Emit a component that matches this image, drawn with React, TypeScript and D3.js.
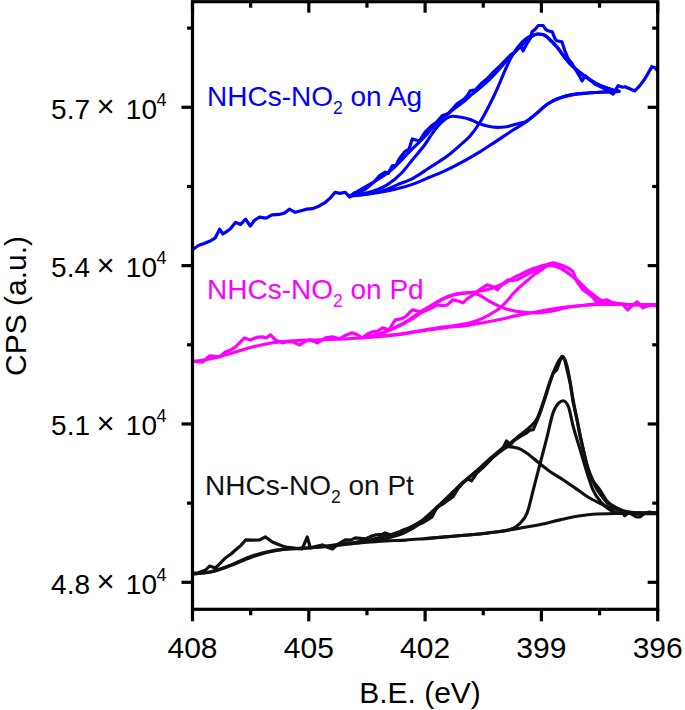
import React from "react";
import * as d3 from "d3";

type P = [number, number];

// ---------- axis ticks ----------
const xMajorTicks = [408, 405, 402, 399, 396];
const xMinorTicks = [406.5, 403.5, 400.5, 397.5];
const yMajorTicks = [48000, 51000, 54000, 57000];
const yMinorTicks = [49500, 52500, 55500, 58500];
const yTickMantissa = ["4.8", "5.1", "5.4", "5.7"];

// ---------- series labels / colours ----------
const seriesNames = ["Ag", "Pd", "Pt"];
const seriesColors = ["#0000ff", "#ff00ff", "#111111"];

// ---------- Ag ----------
const agRaw: P[] = [[408.0,54300],[407.85,54380],[407.7,54420],[407.56,54460],[407.42,54520],[407.3,54690],[407.22,54600],[407.15,54630],[407.02,54700],[406.89,54820],[406.76,54780],[406.63,54880],[406.51,54750],[406.4,54860],[406.27,54920],[406.1,54900],[405.95,54960],[405.76,54970],[405.62,55000],[405.5,55070],[405.35,55010],[405.2,55040],[405.05,55070],[404.9,55080],[404.73,55130],[404.57,55200],[404.45,55280],[404.32,55390],[404.2,55370],[404.06,55390],[403.95,55300],[403.82,55380],[403.7,55390],[403.56,55440],[403.44,55510],[403.3,55600],[403.18,55700],[403.03,55770],[402.95,55750],[402.85,55890],[402.75,55900],[402.67,56020],[402.51,56170],[402.42,56200],[402.33,56400],[402.15,56360],[402.0,56530],[401.85,56640],[401.7,56720],[401.56,56840],[401.4,56880],[401.17,57070],[401.0,57150],[400.91,57220],[400.84,57310],[400.7,57330],[400.55,57450],[400.4,57540],[400.22,57680],[400.06,57790],[399.94,57880],[399.81,57980],[399.68,58060],[399.55,58170],[399.47,58070],[399.38,58200],[399.29,58300],[399.24,58430],[399.16,58480],[399.08,58550],[398.96,58550],[398.88,58470],[398.83,58450],[398.72,58430],[398.65,58300],[398.6,58260],[398.47,58240],[398.4,58080],[398.31,57920],[398.22,57840],[398.13,57730],[398.04,57620],[397.95,57500],[397.87,57600],[397.75,57520],[397.62,57440],[397.5,57400],[397.36,57350],[397.25,57300],[397.15,57250],[397.02,57410],[396.9,57380],[396.84,57390],[396.72,57350],[396.59,57310],[396.45,57420],[396.33,57540],[396.22,57680],[396.15,57770],[396.07,57750],[396.0,57690]];
const agEnv: P[] = [[403.95,55320],[403.6,55470],[403.2,55640],[402.8,55860],[402.4,56160],[402.0,56450],[401.8,56620],[401.6,56770],[401.43,56870],[401.2,57000],[401.0,57110],[400.8,57240],[400.58,57370],[400.35,57520],[400.14,57680],[399.9,57880],[399.73,58010],[399.5,58180],[399.29,58320],[399.1,58390],[398.95,58380],[398.8,58300],[398.6,58150],[398.39,57940],[398.15,57750],[397.87,57590],[397.6,57460],[397.36,57380],[397.15,57330],[397.0,57310]];
const agC1: P[] = [[403.95,55320],[403.5,55380],[403.0,55520],[402.6,55760],[402.3,56030],[402.0,56300],[401.8,56520],[401.6,56700],[401.43,56800],[401.28,56830],[401.1,56815],[400.84,56770],[400.6,56690],[400.4,56645],[400.14,56620],[399.9,56630],[399.75,56660],[399.6,56690],[399.42,56725],[399.1,56900],[398.9,57030],[398.7,57120],[398.47,57190],[398.2,57240],[397.8,57270],[397.4,57290],[397.0,57300]];
const agC2: P[] = [[403.95,55320],[403.5,55360],[403.0,55440],[402.72,55530],[402.3,55660],[401.9,55850],[401.43,56076],[401.1,56280],[400.84,56456],[400.58,56722],[400.35,57030],[400.14,57349],[399.95,57680],[399.8,57918],[399.6,58150],[399.4,58300],[399.2,58370],[399.08,58390],[398.95,58375],[398.8,58290],[398.6,58140],[398.39,57930],[398.15,57740],[397.87,57580],[397.6,57455],[397.36,57375],[397.15,57325],[397.0,57305]];
const agBg: P[] = [[403.95,55320],[403.6,55345],[403.16,55390],[402.7,55460],[402.31,55545],[401.9,55670],[401.45,55810],[401.0,55980],[400.6,56150],[400.2,56340],[399.75,56560],[399.4,56720],[399.1,56900],[398.9,57030],[398.7,57120],[398.47,57190],[398.2,57240],[397.8,57270],[397.4,57290],[397.0,57300]];

// ---------- Pd ----------
const pdRaw: P[] = [[408,52194],[407.87,52180],[407.74,52175],[407.65,52230],[407.56,52289],[407.43,52280],[407.3,52270],[407.15,52365],[407.02,52400],[406.89,52460],[406.78,52540],[406.66,52630],[406.51,52593],[406.35,52640],[406.2,52650],[406.1,52630],[405.99,52688],[405.86,52593],[405.75,52560],[405.68,52536],[405.55,52560],[405.42,52555],[405.24,52498],[405.1,52560],[404.99,52593],[404.88,52570],[404.78,52536],[404.68,52580],[404.57,52631],[404.39,52650],[404.21,52612],[404.05,52680],[403.88,52726],[403.75,52690],[403.62,52631],[403.5,52700],[403.36,52745],[403.22,52760],[403.1,52821],[402.92,52783],[402.85,52880],[402.77,52972],[402.62,52990],[402.51,53029],[402.33,53162],[402.2,53140],[402.07,53124],[401.95,53160],[401.82,53200],[401.69,53257],[401.55,53240],[401.43,53257],[401.28,53352],[401.15,53330],[401.02,53295],[400.9,53380],[400.76,53447],[400.6,53540],[400.4,53637],[400.25,53600],[400.14,53542],[400.0,53650],[399.86,53732],[399.75,53720],[399.63,53732],[399.45,53800],[399.29,53865],[399.12,53920],[398.96,53979],[398.83,54030],[398.7,54055],[398.57,54030],[398.44,53998],[398.3,53950],[398.18,53884],[398.08,53694],[397.93,53542],[397.8,53480],[397.69,53409],[397.56,53295],[397.45,53330],[397.31,53352],[397.15,53295],[397.0,53280],[396.89,53257],[396.77,53162],[396.65,53250],[396.53,53314],[396.38,53200],[396.25,53240],[396.12,53257],[396.0,53219]];
const pdEnv: P[] = [[403.6,52640],[403.2,52700],[402.8,52820],[402.4,52980],[402.12,53124],[401.9,53220],[401.69,53314],[401.5,53390],[401.28,53447],[401.0,53480],[400.84,53490],[400.6,53515],[400.4,53545],[400.14,53610],[399.88,53694],[399.7,53780],[399.55,53830],[399.3,53920],[399.11,53965],[398.95,54005],[398.83,54017],[398.7,54000],[398.52,53960],[398.35,53880],[398.18,53789],[398.0,53670],[397.82,53542],[397.65,53440],[397.49,53352],[397.3,53310],[397.15,53290],[396.8,53262],[396.4,53258],[396.0,53257]];
const pdC1: P[] = [[403.6,52640],[403.2,52700],[402.8,52810],[402.4,52960],[402.12,53100],[401.9,53210],[401.69,53300],[401.5,53380],[401.28,53440],[401.05,53475],[400.84,53485],[400.6,53440],[400.4,53352],[400.2,53270],[399.99,53200],[399.75,53150],[399.55,53124],[399.3,53108],[399.11,53105],[398.9,53120],[398.7,53143],[398.5,53180],[398.26,53219],[398.0,53240],[397.5,53270],[397.0,53268],[396.5,53260],[396.0,53257]];
const pdC2: P[] = [[403.6,52640],[402.5,52720],[402.1,52770],[401.5,52840],[401.2,52870],[400.84,52916],[400.6,52975],[400.4,53048],[400.2,53130],[400.06,53200],[399.9,53320],[399.73,53466],[399.55,53600],[399.37,53713],[399.2,53820],[399.03,53903],[398.83,53998],[398.7,54000],[398.52,53960],[398.35,53880],[398.18,53789],[398.0,53670],[397.82,53542],[397.65,53440],[397.49,53352],[397.3,53305],[397.15,53285],[396.8,53262],[396.4,53258],[396.0,53257]];
const pdBg: P[] = [[408,52180],[407.5,52240],[407.0,52340],[406.5,52450],[406.0,52530],[405.5,52570],[405.0,52590],[404.5,52600],[404.0,52615],[403.3,52650],[402.6,52700],[402.1,52764],[401.5,52820],[400.84,52878],[400.2,52960],[399.55,53067],[399.0,53140],[398.52,53200],[398.0,53240],[397.41,53270],[396.8,53265],[396.0,53257]];

// ---------- Pt ----------
const ptRaw: P[] = [[408,48176],[407.85,48180],[407.66,48233],[407.56,48309],[407.41,48271],[407.3,48350],[407.15,48461],[407.0,48540],[406.89,48613],[406.75,48700],[406.63,48803],[406.45,48800],[406.27,48803],[406.12,48860],[405.94,48765],[405.8,48720],[405.68,48689],[405.55,48660],[405.42,48651],[405.3,48640],[405.17,48632],[405.04,48860],[404.96,48651],[404.8,48680],[404.65,48708],[404.5,48660],[404.39,48632],[404.25,48720],[404.06,48803],[403.92,48800],[403.8,48841],[403.54,48822],[403.4,48870],[403.28,48898],[403.1,48910],[403.03,48936],[402.9,48900],[402.77,48898],[402.6,48980],[402.41,49031],[402.25,49080],[402.07,49126],[401.95,49180],[401.82,49240],[401.69,49430],[401.55,49480],[401.4,49560],[401.28,49620],[401.15,49780],[401.02,49886],[400.9,49960],[400.8,49920],[400.66,50076],[400.5,50180],[400.35,50290],[400.24,50380],[400.1,50470],[399.98,50560],[399.9,50680],[399.8,50600],[399.7,50690],[399.55,50760],[399.4,50820],[399.3,50880],[399.21,50892],[399.12,51050],[399.03,51215],[398.9,51500],[398.78,51786],[398.7,51960],[398.6,52032],[398.52,52200],[398.47,52278],[398.4,52220],[398.34,52032],[398.25,51750],[398.18,51405],[398.08,51080],[398.0,50760],[397.9,50450],[397.82,50190],[397.7,49950],[397.56,49753],[397.45,49640],[397.31,49506],[397.15,49440],[397.05,49390],[396.97,49373],[396.85,49260],[396.75,49320],[396.64,49278],[396.55,49240],[396.46,49240],[396.35,49300],[396.22,49330],[396.12,49316],[396.0,49297]];
const ptEnv: P[] = [[408,48160],[407.5,48205],[407.0,48330],[406.5,48490],[406.0,48590],[405.5,48635],[405.0,48655],[404.5,48690],[404.0,48740],[403.5,48790],[403.0,48880],[402.5,49000],[402.12,49150],[401.7,49420],[401.3,49700],[401.0,49910],[400.66,50120],[400.3,50360],[400.0,50540],[399.8,50640],[399.55,50790],[399.3,50940],[399.1,51120],[398.95,51420],[398.8,51760],[398.65,52050],[398.52,52230],[398.45,52280],[398.34,52100],[398.18,51450],[398.0,50790],[397.82,50220],[397.67,49930],[397.5,49760],[397.31,49540],[397.0,49390],[396.64,49300],[396.0,49300]];
const ptC1: P[] = [[403.5,48770],[403.0,48830],[402.5,48950],[402.12,49120],[401.7,49400],[401.3,49690],[401.0,49900],[400.66,50110],[400.3,50340],[400.0,50510],[399.85,50570],[399.6,50540],[399.4,50460],[399.11,50290],[398.8,50110],[398.44,49943],[398.1,49770],[397.82,49626],[397.5,49500],[397.31,49436],[397.0,49370],[396.8,49340],[396.5,49315],[396.0,49310]];
const ptC2: P[] = [[402.0,48830],[401.0,48890],[400.4,48935],[399.81,49000],[399.55,49120],[399.37,49310],[399.21,49750],[399.03,50260],[398.85,50765],[398.7,51210],[398.55,51400],[398.44,51440],[398.31,51340],[398.18,50955],[398.0,50510],[397.82,50070],[397.67,49753],[397.44,49500],[397.23,49373],[396.97,49310],[396.5,49310],[396.0,49310]];
const ptBg: P[] = [[408,48158],[407.5,48200],[407.0,48320],[406.5,48470],[406.0,48580],[405.5,48630],[405.0,48650],[404.5,48680],[404.0,48720],[403.5,48760],[403.0,48785],[402.5,48800],[402.12,48820],[401.5,48860],[400.9,48895],[400.4,48930],[399.95,48975],[399.55,49025],[399.0,49100],[398.52,49183],[398.0,49260],[397.67,49290],[397.0,49305],[396.5,49310],[396.0,49310]];

const rawSeries = [agRaw, pdRaw, ptRaw];
const fitSeries = [
  [agBg, agC1, agC2, agEnv],
  [pdBg, pdC1, pdC2, pdEnv],
  [ptBg, ptC1, ptC2, ptEnv],
];

const FONT = "'Liberation Sans', Arial, Helvetica, sans-serif";

export default function App() {
  const W = 685, H = 710;
  const L = 192.5, R = 657.7, T = 1.7, B = 609.3;
  const x = d3.scaleLinear().domain([408, 396]).range([L, R]);
  const y = d3.scaleLinear().domain([48000, 57000]).range([582.3, 107.3]);

  const rawLine = d3.line<P>().x(d => x(d[0])).y(d => y(d[1])).curve(d3.curveLinear);
  const fitLine = d3.line<P>().x(d => x(d[0])).y(d => y(d[1])).curve(d3.curveMonotoneX);

  const labelY = [106, 299, 495];
  const labelX = [207, 207, 205];

  return (
    <svg width={W} height={H} style={{ position: "absolute", left: 0, top: 0, background: "#fff" }} fontFamily={FONT}>
      <defs>
        <clipPath id="plotclip">
          <rect x={L} y={T} width={R - L} height={B - T} />
        </clipPath>
      </defs>
      <g clipPath="url(#plotclip)" fill="none" strokeLinejoin="round" strokeLinecap="round">
        {rawSeries.map((s, i) => (
          <path key={"r" + i} d={rawLine(s) || ""} stroke={seriesColors[i]} strokeWidth={3.2} />
        ))}
        {fitSeries.map((fs, i) =>
          fs.map((s, j) => (
            <path key={"f" + i + "-" + j} d={fitLine(s) || ""} stroke={seriesColors[i]} strokeWidth={3.1} />
          ))
        )}
      </g>

      {/* series labels */}
      {seriesNames.map((n, i) => (
        <text key={"lab" + i} x={labelX[i]} y={labelY[i]} fontSize={28} fill={seriesColors[i]}>
          NHCs-NO<tspan fontSize={17.5} dy={8}>2</tspan>
          <tspan dy={-8}> on {n}</tspan>
        </text>
      ))}

      {/* frame */}
      <rect x={L} y={T} width={R - L} height={B - T} fill="none" stroke="#000" strokeWidth={3.2} />

      {/* y ticks */}
      {yMajorTicks.map(v => (
        <g key={"ym" + v}>
          <line x1={L - 11} x2={L} y1={y(v)} y2={y(v)} stroke="#000" strokeWidth={3.2} />
          <line x1={R - 10} x2={R} y1={y(v)} y2={y(v)} stroke="#000" strokeWidth={3.2} />
        </g>
      ))}
      {yMinorTicks.map(v => (
        <g key={"yn" + v}>
          <line x1={L - 5.5} x2={L} y1={y(v)} y2={y(v)} stroke="#000" strokeWidth={3.2} />
          <line x1={R - 5.5} x2={R} y1={y(v)} y2={y(v)} stroke="#000" strokeWidth={3.2} />
        </g>
      ))}
      {yMajorTicks.map((v, i) => (
        <g key={"yl" + v} fontSize={28} fill="#000">
          <text x={90} y={y(v) + 11.5} textAnchor="end">{yTickMantissa[i]}</text>
          <text x={105.5} y={y(v) + 10} textAnchor="middle" fontSize={31}>×</text>
          <text x={157} y={y(v) + 11.5} textAnchor="end">10</text>
          <text x={156.5} y={y(v) - 1.5} fontSize={18}>4</text>
        </g>
      ))}

      {/* x ticks */}
      {xMajorTicks.map(v => (
        <g key={"xm" + v}>
          <line x1={x(v)} x2={x(v)} y1={B} y2={B + 12} stroke="#000" strokeWidth={3.2} />
          <line x1={x(v)} x2={x(v)} y1={T} y2={T + 11} stroke="#000" strokeWidth={3.2} />
          <text x={x(v)} y={658} textAnchor="middle" fontSize={30} fill="#000">{v}</text>
        </g>
      ))}
      {xMinorTicks.map(v => (
        <g key={"xn" + v}>
          <line x1={x(v)} x2={x(v)} y1={B} y2={B + 6} stroke="#000" strokeWidth={3.2} />
          <line x1={x(v)} x2={x(v)} y1={T} y2={T + 6} stroke="#000" strokeWidth={3.2} />
        </g>
      ))}

      {/* axis titles */}
      <text x={420} y={703} textAnchor="middle" fontSize={30} fill="#000">B.E. (eV)</text>
      <text transform="translate(25.5,306) rotate(-90)" textAnchor="middle" fontSize={30} fill="#000">CPS (a.u.)</text>
    </svg>
  );
}
